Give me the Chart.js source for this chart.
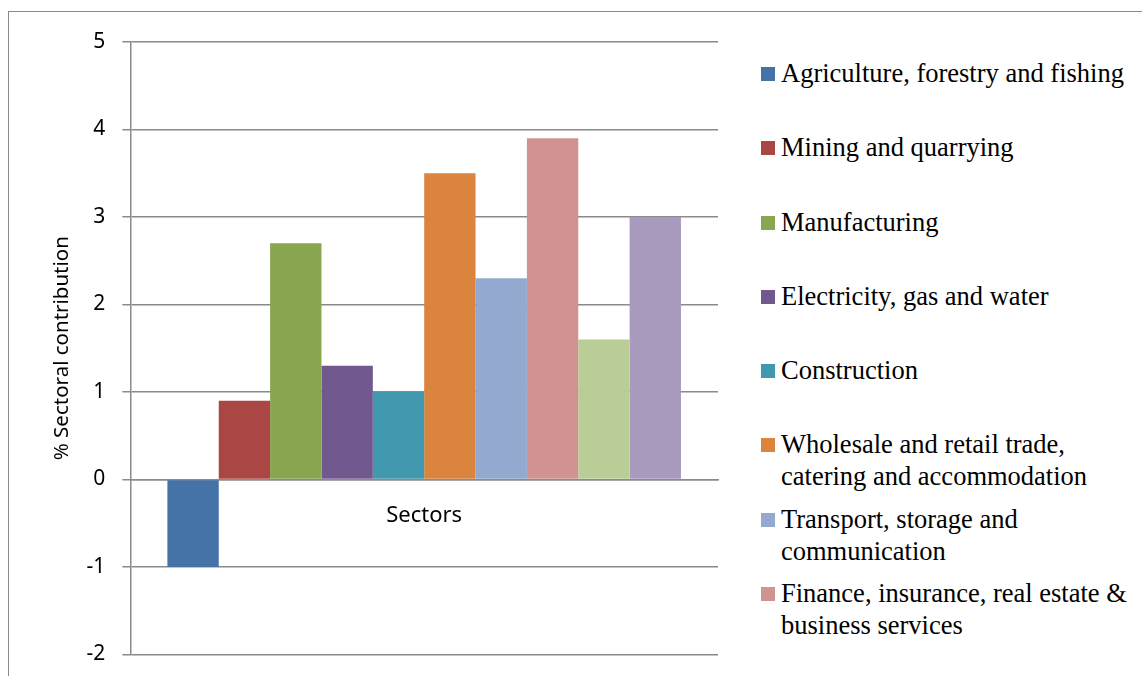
<!DOCTYPE html>
<html>
<head>
<meta charset="utf-8">
<script src="https://cdn.jsdelivr.net/npm/chart.js@4.4.1/dist/chart.umd.min.js"></script>
<style>
  html, body { margin: 0; padding: 0; background: #fff; overflow: hidden; }
  #frame {
    position: absolute; left: 8px; top: 11px; width: 1200px; height: 700px;
    border: 1.5px solid #8a8a8a; box-sizing: border-box;
  }
  #wrap { position: absolute; left: 0; top: 0; width: 740px; height: 684px; }
  #legend {
    position: absolute; left: 761px; top: 57px; width: 380px;
    font-family: "Liberation Serif", "Times New Roman", serif; font-size: 26.5px;
    color: #000;
  }
  .item { position: relative; height: 74.3px; padding-left: 20px; line-height: 32px; }
  .sw { position: absolute; left: 0; top: 10px; width: 14px; height: 14px; }
</style>
</head>
<body>
<div id="frame"></div>
<div id="wrap"><canvas id="chart"></canvas></div>
<div id="legend"></div>
<script>
// category and series
const categories = ["Sectors"];
const sectors = [
  "Agriculture, forestry and fishing",
  "Mining and quarrying",
  "Manufacturing",
  "Electricity, gas and water",
  "Construction",
  "Wholesale and retail trade,<br>catering and accommodation",
  "Transport, storage and<br>communication",
  "Finance, insurance, real estate &amp;<br>business services",
  "Government services",
  "Other services"
];
const values = [-1.0, 0.9, 2.7, 1.3, 1.0, 3.5, 2.3, 3.9, 1.6, 3.0];
const colors = ["#4572A7", "#AA4643", "#89A54E", "#71588F", "#4198AF",
                "#DB843D", "#93A9CF", "#D19392", "#B9CD96", "#A99BBD"];
const yTicks = [5, 4, 3, 2, 1, 0, -1, -2];

// html legend - only the entries that fit are shown, like the original
const legendShown = 8;
let legendHtml = "";
for (let i = 0; i < legendShown; i++) {
    legendHtml += '<div class="item"><span class="sw" style="background:' + colors[i] + '"></span>' + sectors[i] + '</div>';
}
document.getElementById("legend").innerHTML = legendHtml;

let ctx = document.getElementById("chart").getContext("2d");

let datasets = sectors.map(function (name, i) {
    return {
        label: name.replace("<br>", " ").replace("&amp;", "&"),
        data: [values[i]],
        backgroundColor: colors[i],
        borderWidth: 0
    };
});

let chart = new Chart(ctx, {
    type: "bar",
    data: {
        labels: categories,
        datasets: datasets
    },
    options: {
        responsive: true,
        maintainAspectRatio: false,
        animation: false,
        layout: { padding: { top: 42, right: 22, bottom: 0, left: 50 } },
        datasets: {
            bar: { categoryPercentage: 0.874, barPercentage: 1.0 }
        },
        plugins: {
            legend: { display: false },
            tooltip: { enabled: false }
        },
        scales: {
            x: {
                position: { y: 0 },
                grid: { display: false },
                border: { color: "#8a8a8a", width: 1.5 },
                ticks: {
                    color: "#000",
                    padding: 15,
                    font: { family: "Noto Sans", size: 22 }
                }
            },
            y: {
                min: -2,
                max: 5,
                afterBuildTicks: function (axis) {
                    axis.ticks = yTicks.map(function (v) { return { value: v }; });
                },
                grid: { color: "#8a8a8a", lineWidth: 1.5, tickLength: 8 },
                border: { color: "#8a8a8a", width: 1.5 },
                title: {
                    display: true,
                    text: "% Sectoral contribution",
                    color: "#000",
                    padding: { top: 0, bottom: -5 },
                    font: { family: "Noto Sans", size: 20.5 }
                },
                ticks: {
                    color: "#000",
                    padding: 17,
                    font: { family: "Noto Sans", size: 21 }
                }
            }
        }
    }
});
</script>
</body>
</html>
